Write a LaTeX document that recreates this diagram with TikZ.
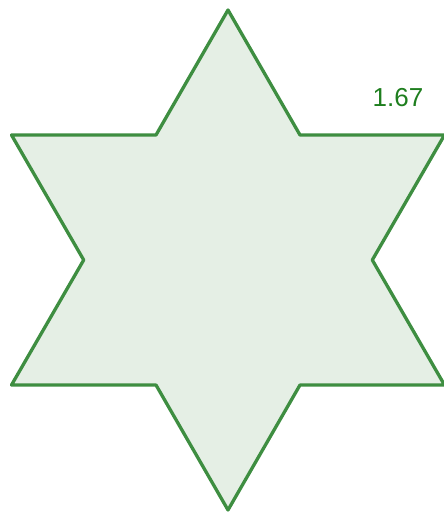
\documentclass[tikz,border=0pt]{standalone}
\usepackage{fontspec}
\setmainfont{Liberation Sans}
\definecolor{starline}{HTML}{3E8E41}
\definecolor{starfill}{HTML}{E5EFE5}
\definecolor{labelgreen}{HTML}{1E7E1E}
\begin{document}
\begin{tikzpicture}[x=1pt,y=-1pt,
  starstyle/.style={draw=starline, fill=starfill, line width=3.3pt, line join=round},
  lbl/.style={text=labelgreen, font=\fontsize{26}{29}\selectfont, inner sep=0pt}]
\useasboundingbox (0,0) rectangle (444,515);
\coordinate (o1) at (228,10);
\coordinate (i1) at (300,135);
\coordinate (o2) at (444.5,135);
\coordinate (i2) at (372.3,260);
\coordinate (o3) at (444.5,385);
\coordinate (i3) at (300,385);
\coordinate (o4) at (228,510);
\coordinate (i4) at (156,385);
\coordinate (o5) at (11.5,385);
\coordinate (i5) at (83.7,260);
\coordinate (o6) at (11.5,135);
\coordinate (i6) at (156,135);
\path[starstyle] (o1) -- (i1) -- (o2) -- (i2) -- (o3) -- (i3) -- (o4) -- (i4) -- (o5) -- (i5) -- (o6) -- (i6) -- cycle;
\node[lbl, anchor=center] (val) at (398,98) {1.67};
\end{tikzpicture}
\end{document}
